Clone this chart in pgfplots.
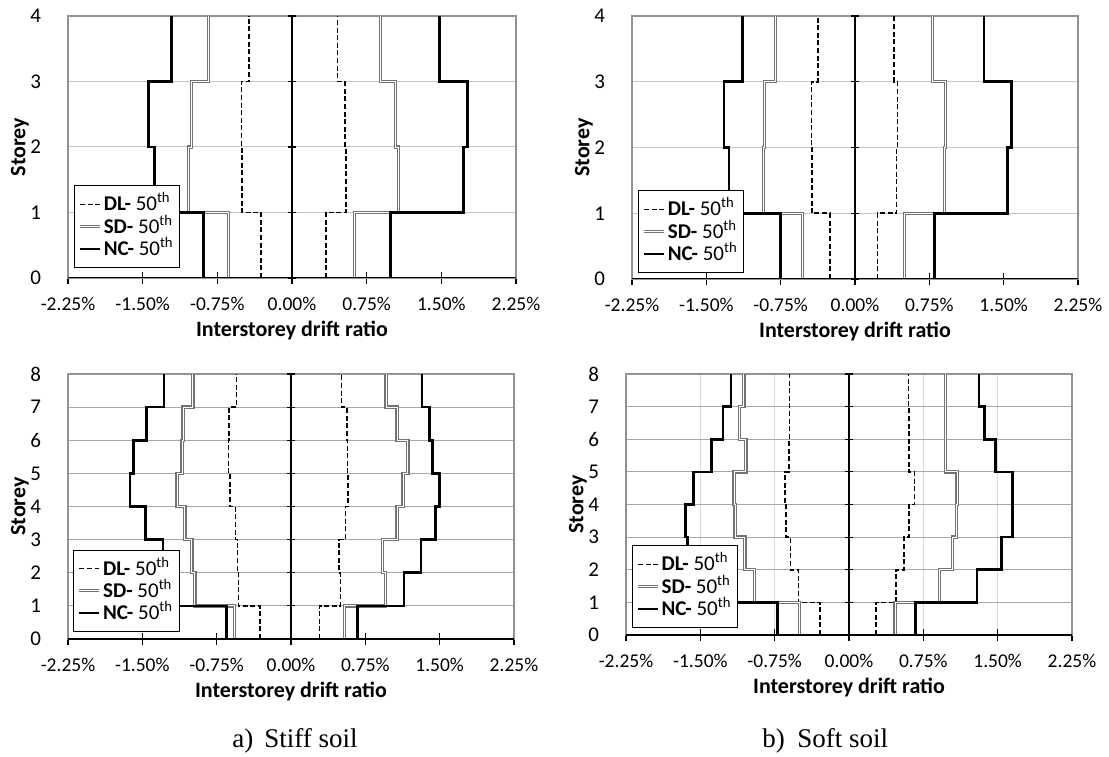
\documentclass[border=0pt]{standalone}
\usepackage{fontspec}
\setmainfont{Carlito}
\newfontfamily\capfont{Liberation Serif}
\usepackage{pgfplots}
\pgfplotsset{compat=1.18}
\pgfplotsset{
 drift/.style={
  scale only axis,
  xmin=-2.25, xmax=2.25, ymin=0,
  xtick={-2.25,-1.5,-0.75,0,0.75,1.5,2.25},
  xticklabels={-2.25\%,-1.50\%,-0.75\%,0.00\%,0.75\%,1.50\%,2.25\%},
  xtick pos=bottom, tick align=center,
  major tick length=6pt,
  xtick style={black, line width=0.6pt},
  ytick style={draw=none},
  axis line style={draw=gray!85, line width=0.6pt},
  ymajorgrids,
  /pgf/number format/assume math mode=true,
  ticklabel style={font=\fontsize{9.75}{11}\selectfont},
  xticklabel style={yshift=-3pt},
  yticklabel style={xshift=-7pt, font=\fontsize{10.5}{12}\selectfont},
  xlabel={Interstorey drift ratio},
  ylabel={Storey},
  label style={font=\bfseries\fontsize{11}{13}\selectfont},
  x label style={at={(axis description cs:0.5,0)}, anchor=center, yshift=-26pt},
  y label style={at={(axis description cs:0,0.5)}, anchor=center, yshift=24pt},
  legend style={anchor=south west, draw=black, line width=0.5pt, font=\fontsize{10.5}{12}\selectfont, legend cell align=left, row sep=-2.5pt, inner xsep=2pt, inner ysep=2.5pt, nodes={inner xsep=1pt, inner ysep=1.6pt, text height=8.4pt, text depth=2pt}},
  legend image code/.code={\draw[#1] (0pt,0pt) -- (10pt,0pt);},
 },
 dl/.style={black, line width=0.8pt, dash pattern=on 2.5pt off 1.3pt},
 sd/.style={draw=gray!90!black, line width=0.6pt, double=white, double distance=0.45pt},
 nc/.style={black, line width=1.3pt},
 zl/.style={black, line width=0.6pt, mark=-, mark size=2.2pt, mark options={solid, line width=0.6pt}, forget plot},
}
\begin{document}
\begin{tikzpicture}
\useasboundingbox (0pt,0pt) rectangle (554.5pt,378pt);
% ---------------- Top-left: stiff soil, 4 storeys
\begin{axis}[drift, at={(34pt,239pt)}, anchor=south west, width=224pt, height=131pt,
  ymax=4, ytick={0,1,2,3,4}, major y grid style={gray!45, line width=0.5pt},
  legend style={at={(0.0134,0.038)}}]
\addplot[zl] coordinates {(0,0)(0,1)(0,2)(0,3)(0,4)};
\addplot[dl] coordinates {(0.34,0)(0.34,1)(0.54,1)(0.54,2)(0.53,2)(0.53,3)(0.456,3)(0.456,4)};
\addlegendentry{\textbf{DL-} 50\textsuperscript{th}}
\addplot[dl, forget plot] coordinates {(-0.31,0)(-0.31,1)(-0.50,1)(-0.50,2)(-0.506,2)(-0.506,3)(-0.43,3)(-0.43,4)};
\addplot[sd] coordinates {(0.63,0)(0.63,1)(1.07,1)(1.07,2)(1.04,2)(1.04,3)(0.89,3)(0.89,4)};
\addlegendentry{\textbf{SD-} 50\textsuperscript{th}}
\addplot[sd, forget plot] coordinates {(-0.635,0)(-0.635,1)(-1.04,1)(-1.04,2)(-1.01,2)(-1.01,3)(-0.84,3)(-0.84,4)};
\addplot[nc] coordinates {(0.99,0)(0.99,1)(1.72,1)(1.72,2)(1.76,2)(1.76,3)(1.48,3)(1.48,4)};
\addlegendentry{\textbf{NC-} 50\textsuperscript{th}}
\addplot[nc, forget plot] coordinates {(-0.89,0)(-0.89,1)(-1.38,1)(-1.38,2)(-1.44,2)(-1.44,3)(-1.21,3)(-1.21,4)};
\draw[black, line width=0.6pt] (rel axis cs:0,0) -- (rel axis cs:1,0);
\end{axis}
% ---------------- Top-right: soft soil, 4 storeys
\begin{axis}[drift, at={(316pt,238.5pt)}, anchor=south west, width=223pt, height=131.5pt,
  ymax=4, ytick={0,1,2,3,4}, major y grid style={gray!45, line width=0.5pt},
  legend style={at={(0.0135,0.023)}}]
\addplot[zl] coordinates {(0,0)(0,1)(0,2)(0,3)(0,4)};
\addplot[dl] coordinates {(0.226,0)(0.226,1)(0.42,1)(0.42,2)(0.43,2)(0.43,3)(0.396,3)(0.396,4)};
\addlegendentry{\textbf{DL-} 50\textsuperscript{th}}
\addplot[dl, forget plot] coordinates {(-0.255,0)(-0.255,1)(-0.435,1)(-0.435,2)(-0.44,2)(-0.44,3)(-0.375,3)(-0.375,4)};
\addplot[sd] coordinates {(0.50,0)(0.50,1)(0.90,1)(0.90,2)(0.91,2)(0.91,3)(0.78,3)(0.78,4)};
\addlegendentry{\textbf{SD-} 50\textsuperscript{th}}
\addplot[sd, forget plot] coordinates {(-0.53,0)(-0.53,1)(-0.92,1)(-0.92,2)(-0.91,2)(-0.91,3)(-0.80,3)(-0.80,4)};
\addplot[nc] coordinates {(0.80,0)(0.80,1)(1.54,1)(1.54,2)(1.58,2)(1.58,3)(1.30,3)(1.30,4)};
\addlegendentry{\textbf{NC-} 50\textsuperscript{th}}
\addplot[nc, forget plot] coordinates {(-0.75,0)(-0.75,1)(-1.27,1)(-1.27,2)(-1.32,2)(-1.32,3)(-1.136,3)(-1.136,4)};
\draw[black, line width=0.6pt] (rel axis cs:0,0) -- (rel axis cs:1,0);
\end{axis}
% ---------------- Bottom-left: stiff soil, 8 storeys
\begin{axis}[drift, at={(34pt,58.5pt)}, anchor=south west, width=223pt, height=132.5pt,
  ymax=8, ytick={0,1,...,8}, major y grid style={gray!70, line width=0.5pt},
  legend style={at={(0.012,0.026)}}]
\addplot[zl] coordinates {(0,0)(0,1)(0,2)(0,3)(0,4)(0,5)(0,6)(0,7)(0,8)};
\addplot[dl] coordinates {(0.286,0)(0.286,1)(0.50,1)(0.50,2)(0.486,2)(0.486,3)(0.55,3)(0.55,4)(0.575,4)(0.575,5)(0.57,5)(0.57,6)(0.564,6)(0.564,7)(0.51,7)(0.51,8)};
\addlegendentry{\textbf{DL-} 50\textsuperscript{th}}
\addplot[dl, forget plot] coordinates {(-0.31,0)(-0.31,1)(-0.53,1)(-0.53,2)(-0.54,2)(-0.54,3)(-0.56,3)(-0.56,4)(-0.614,4)(-0.614,5)(-0.63,5)(-0.63,6)(-0.625,6)(-0.625,7)(-0.55,7)(-0.55,8)};
\addplot[sd] coordinates {(0.54,0)(0.54,1)(0.95,1)(0.95,2)(0.92,2)(0.92,3)(1.07,3)(1.07,4)(1.13,4)(1.13,5)(1.18,5)(1.18,6)(1.07,6)(1.07,7)(0.96,7)(0.96,8)};
\addlegendentry{\textbf{SD-} 50\textsuperscript{th}}
\addplot[sd, forget plot] coordinates {(-0.57,0)(-0.57,1)(-0.97,1)(-0.97,2)(-1.00,2)(-1.00,3)(-1.07,3)(-1.07,4)(-1.15,4)(-1.15,5)(-1.10,5)(-1.10,6)(-1.09,6)(-1.09,7)(-0.99,7)(-0.99,8)};
\addplot[nc] coordinates {(0.67,0)(0.67,1)(1.14,1)(1.14,2)(1.31,2)(1.31,3)(1.46,3)(1.46,4)(1.50,4)(1.50,5)(1.43,5)(1.43,6)(1.40,6)(1.40,7)(1.32,7)(1.32,8)};
\addlegendentry{\textbf{NC-} 50\textsuperscript{th}}
\addplot[nc, forget plot] coordinates {(-0.65,0)(-0.65,1)(-1.16,1)(-1.16,2)(-1.29,2)(-1.29,3)(-1.47,3)(-1.47,4)(-1.625,4)(-1.625,5)(-1.59,5)(-1.59,6)(-1.46,6)(-1.46,7)(-1.28,7)(-1.28,8)};
\draw[black, line width=0.6pt] (rel axis cs:0,0) -- (rel axis cs:1,0);
\end{axis}
% ---------------- Bottom-right: soft soil, 8 storeys
\begin{axis}[drift, at={(313pt,60.5pt)}, anchor=south west, width=223pt, height=130.5pt,
  ymax=8, ytick={0,1,...,8}, xmajorgrids, major y grid style={gray!70, line width=0.5pt},
  major x grid style={gray!30, line width=0.5pt},
  legend style={at={(0.013,0.027)}}]
\addplot[zl] coordinates {(0,0)(0,1)(0,2)(0,3)(0,4)(0,5)(0,6)(0,7)(0,8)};
\addplot[dl] coordinates {(0.27,0)(0.27,1)(0.475,1)(0.475,2)(0.553,2)(0.553,3)(0.605,3)(0.605,4)(0.662,4)(0.662,5)(0.605,5)(0.605,6)(0.605,6)(0.605,7)(0.60,7)(0.60,8)};
\addlegendentry{\textbf{DL-} 50\textsuperscript{th}}
\addplot[dl, forget plot] coordinates {(-0.29,0)(-0.29,1)(-0.51,1)(-0.51,2)(-0.59,2)(-0.59,3)(-0.634,3)(-0.634,4)(-0.644,4)(-0.644,5)(-0.605,5)(-0.605,6)(-0.60,6)(-0.60,7)(-0.60,7)(-0.60,8)};
\addplot[sd] coordinates {(0.465,0)(0.465,1)(0.915,1)(0.915,2)(1.046,2)(1.046,3)(1.085,3)(1.085,4)(1.09,4)(1.09,5)(0.975,5)(0.975,6)(0.975,6)(0.975,7)(0.975,7)(0.975,8)};
\addlegendentry{\textbf{SD-} 50\textsuperscript{th}}
\addplot[sd, forget plot] coordinates {(-0.50,0)(-0.50,1)(-0.954,1)(-0.954,2)(-1.05,2)(-1.05,3)(-1.15,3)(-1.15,4)(-1.16,4)(-1.16,5)(-1.04,5)(-1.04,6)(-1.105,6)(-1.105,7)(-1.06,7)(-1.06,8)};
\addplot[nc] coordinates {(0.67,0)(0.67,1)(1.29,1)(1.29,2)(1.54,2)(1.54,3)(1.65,3)(1.65,4)(1.65,4)(1.65,5)(1.48,5)(1.48,6)(1.37,6)(1.37,7)(1.31,7)(1.31,8)};
\addlegendentry{\textbf{NC-} 50\textsuperscript{th}}
\addplot[nc, forget plot] coordinates {(-0.72,0)(-0.72,1)(-1.35,1)(-1.35,2)(-1.63,2)(-1.63,3)(-1.65,3)(-1.65,4)(-1.57,4)(-1.57,5)(-1.39,5)(-1.39,6)(-1.27,6)(-1.27,7)(-1.19,7)(-1.19,8)};
\draw[black, line width=0.6pt] (rel axis cs:0,0) -- (rel axis cs:1,0);
\end{axis}
% captions
\node[font=\capfont\fontsize{13.5}{15}\selectfont, anchor=base west, inner sep=0pt] at (116pt,4.5pt) {a)};
\node[font=\capfont\fontsize{13.5}{15}\selectfont, anchor=base west, inner sep=0pt] at (132pt,4.5pt) {Stiff soil};
\node[font=\capfont\fontsize{13.5}{15}\selectfont, anchor=base west, inner sep=0pt] at (381pt,4.5pt) {b)};
\node[font=\capfont\fontsize{13.5}{15}\selectfont, anchor=base west, inner sep=0pt] at (398.5pt,4.5pt) {Soft soil};
\end{tikzpicture}
\end{document}
